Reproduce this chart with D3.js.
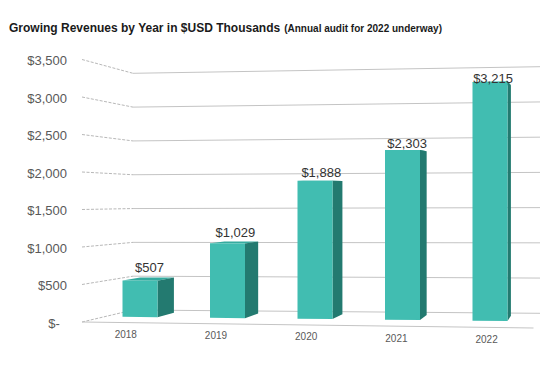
<!DOCTYPE html>
<html><head><meta charset="utf-8">
<script src="https://cdn.jsdelivr.net/npm/d3@7"></script>
<style>body{margin:0;background:#fff}svg{display:block}</style>
</head><body><svg id="c" width="560" height="365"></svg>
<script>
const years = ["2018", "2019", "2020", "2021", "2022"];
const revenues = [507, 1029, 1888, 2303, 3215];
const valueLabels = ["$507", "$1,029", "$1,888", "$2,303", "$3,215"];
const tickValues = [0, 500, 1000, 1500, 2000, 2500, 3000, 3500];
const tickLabels = ["$-\u00A0\u00A0", "$500", "$1,000", "$1,500", "$2,000", "$2,500", "$3,000", "$3,500"];
const titleMain = "Growing Revenues by Year in $USD Thousands";
const titleSub = "(Annual audit for 2022 underway)";

const FONT = "'Liberation Sans', Arial, Helvetica, sans-serif";
const svg = d3.select("#c");
svg.append("rect").attr("width", 560).attr("height", 365).attr("fill", "#fff");

// ---- pseudo-3D geometry built from d3 scales ----
const X0 = 82, X1 = 533.5;
const x = d3.scaleBand().domain(years).range([72.9, 530.7]).paddingInner(0.6).paddingOuter(0.3);
const frontBase = d3.scaleLinear().domain([X0, X1]).range([322, 328]);
const frontTop = d3.scaleLinear().domain([X0, X1]).range([59.5, 54.3]);
const backX = d3.scaleLinear().domain([X0, X1]).range([133, 540]);
const backBase = d3.scaleLinear().domain([133, 540]).range([310, 313.3]);
const backTop = d3.scaleLinear().domain([133, 540]).range([73.3, 66.7]);
const yFront = xf => d3.scaleLinear().domain([0, 3500]).range([frontBase(xf), frontTop(xf)]);
const yBack = xb => d3.scaleLinear().domain([0, 3500]).range([backBase(xb), backTop(xb)]);
function P(xf, val, d) {
  const fy = yFront(xf)(val);
  const bx = backX(xf), by = yBack(bx)(val);
  return [xf + d * (bx - xf), fy + d * (by - fy)];
}
const D1 = 0.45, D2 = 0.81;

// ---- gridlines ----
const grid = svg.append("g");
tickValues.forEach(t => {
  const a = P(X0, t, 0), b = P(X0, t, 1), c = P(X1, t, 1);
  grid.append("line").attr("x1", a[0]).attr("y1", a[1]).attr("x2", b[0]).attr("y2", b[1])
    .attr("stroke", "#b8b8b8").attr("stroke-width", 1).attr("stroke-dasharray", "3,1.5");
  grid.append("line").attr("x1", b[0]).attr("y1", b[1]).attr("x2", c[0]).attr("y2", c[1])
    .attr("stroke", "#c4c4c4").attr("stroke-width", 1);
});
{
  const a = P(X0, 0, 0), b = P(X1, 0, 0);
  grid.append("line").attr("x1", a[0]).attr("y1", a[1]).attr("x2", b[0]).attr("y2", b[1])
    .attr("stroke", "#c4c4c4").attr("stroke-width", 1);
}

// ---- y axis labels ----
svg.append("g").selectAll("text").data(tickValues).join("text")
  .attr("x", 67).attr("y", (t) => P(X0, t, 0)[1] + 1)
  .attr("text-anchor", "end").attr("dominant-baseline", "central")
  .attr("font-family", FONT).attr("font-size", 13).attr("fill", "#595959")
  .style("white-space", "pre")
  .text((t, i) => tickLabels[i]);

// ---- bars ----
const poly = pts => pts.map(p => p.join(",")).join(" ");
const bars = svg.append("g");
years.forEach((yr, i) => {
  const val = revenues[i];
  const xl = x(yr), xr = xl + x.bandwidth();
  const top = [P(xl, val, D1), P(xr, val, D1), P(xr, val, D2), P(xl, val, D2)];
  const side = [P(xr, 0, D1), P(xr, 0, D2), P(xr, val, D2), P(xr, val, D1)];
  const front = [P(xl, 0, D1), P(xr, 0, D1), P(xr, val, D1), P(xl, val, D1)];
  bars.append("polygon").attr("points", poly(top)).attr("fill", "#36ab9f");
  bars.append("polygon").attr("points", poly(side)).attr("fill", "#237a70");
  bars.append("polygon").attr("points", poly(front)).attr("fill", "#41bdb1");
});

// ---- value labels ----
svg.append("g").selectAll("text").data(years).join("text")
  .attr("x", (yr) => P(x(yr) + x.bandwidth() / 2, 0, (D1 + D2) / 2)[0] + 1)
  .attr("y", (yr, i) => P(x(yr) + x.bandwidth() / 2, revenues[i], 1)[1] - 4)
  .attr("text-anchor", "middle")
  .attr("font-family", FONT).attr("font-size", 13).attr("fill", "#333")
  .text((yr, i) => valueLabels[i]);

// ---- category labels ----
svg.append("g").selectAll("text").data(years).join("text")
  .attr("x", (yr) => P(x(yr) + x.bandwidth() / 2, 0, 0.15)[0])
  .attr("y", (yr) => P(x(yr) + x.bandwidth() / 2, 0, 0)[1] + 12)
  .attr("text-anchor", "middle").attr("dominant-baseline", "central")
  .attr("font-family", FONT).attr("font-size", 10).attr("fill", "#595959")
  .text(yr => yr);

// ---- title ----
const title = svg.append("text").attr("x", 9).attr("y", 32)
  .attr("font-family", FONT).attr("font-weight", "bold").attr("fill", "#1a1a1a");
title.append("tspan").attr("font-size", 12).text(titleMain);
title.append("tspan").attr("font-size", 10).attr("dx", 4).text(titleSub);
</script>
</body></html>
